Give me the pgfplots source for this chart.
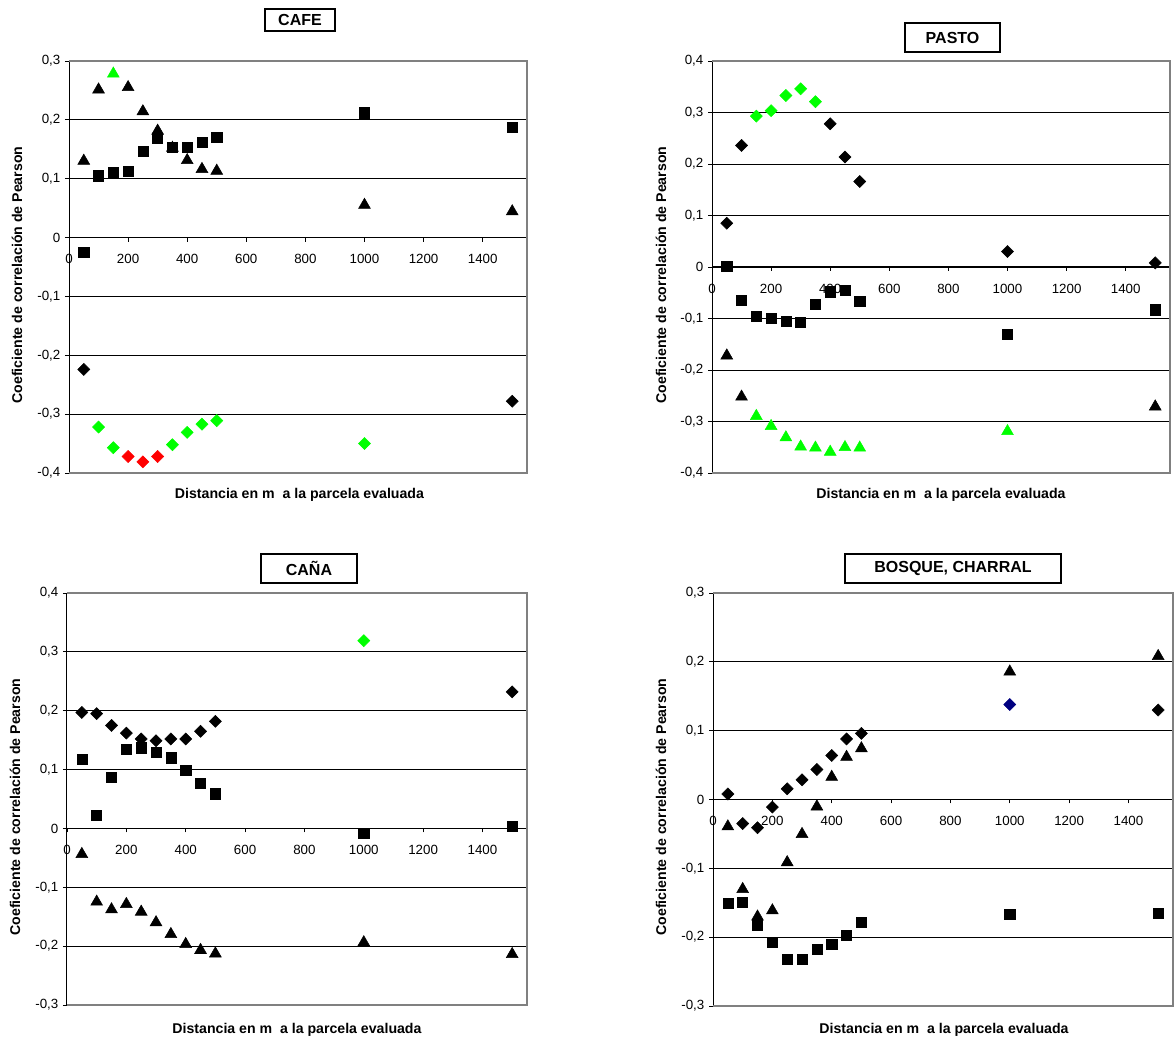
\documentclass[border=0pt]{standalone}
\usepackage{pgfplots}
\pgfplotsset{compat=1.18}
\usepackage{fontspec}
\setmainfont{Liberation Sans}

\definecolor{xlgreen}{RGB}{0,255,0}
\definecolor{xlred}{RGB}{255,0,0}
\definecolor{xlnavy}{RGB}{0,0,128}
\definecolor{framegray}{RGB}{128,128,128}

\pgfplotsset{
 panel/.style={
   scale only axis, width=343.5pt, height=309pt,
   axis x line=middle, axis y line=left,
   axis line style={-, black, line width=0.75pt},
   xmin=0, xmax=1550,
   xtick={0,200,400,600,800,1000,1200,1400},
   tick align=outside, major tick length=3pt,
   hide obscured x ticks=false, hide obscured y ticks=false,
   ymajorgrids, grid style={black, line width=0.6pt},
   tick style={black, line width=0.6pt},
   xticklabel style={font=\fontsize{10}{12}\selectfont, anchor=north, yshift=-6pt},
   yticklabel style={font=\fontsize{10}{12}\selectfont},
   /pgf/number format/assume math mode=true,
   /pgf/number format/1000 sep={},
   clip=false,
   anchor=south west,
 },
 sq/.style={only marks, mark=square*, mark size=3.8pt, black},
 tri/.style={only marks, mark=triangle*, mark size=5.1pt, mark options={yshift=-1.2pt}, black},
 dia/.style={only marks, mark=square*, mark size=3.2pt, mark options={rotate=45}, black},
}
\tikzset{fr/.style={framegray, line width=0.9pt}}
\newcommand{\panelframe}{\draw[fr] (rel axis cs:0,1) -- (rel axis cs:1,1) -- (rel axis cs:1,0) -- (rel axis cs:0,0);}

\begin{document}
\begin{tikzpicture}
\useasboundingbox (0,0) rectangle (880.5pt,780.75pt);

% ---------------- CAFE ----------------
\begin{axis}[panel, at={(51.75pt,426pt)},
  ymin=-0.4, ymax=0.3,
  ytick={-0.4,-0.3,-0.2,-0.1,0,0.1,0.2,0.3},
  yticklabels={{-0,4},{-0,3},{-0,2},{-0,1},0,{0,1},{0,2},{0,3}}]
\panelframe
\addplot[sq] coordinates {(50,-0.025)(100,0.105)(150,0.110)(200,0.113)(250,0.147)(300,0.169)(350,0.154)(400,0.154)(450,0.162)(500,0.171)(1000,0.212)(1500,0.188)};
\addplot[tri] coordinates {(50,0.133)(100,0.254)(200,0.258)(250,0.217)(300,0.184)(350,0.155)(400,0.134)(450,0.119)(500,0.116)(1000,0.058)(1500,0.047)};
\addplot[tri, color=xlgreen] coordinates {(150,0.281)};
\addplot[dia] coordinates {(50,-0.224)(1500,-0.278)};
\addplot[dia, color=xlgreen] coordinates {(100,-0.322)(150,-0.357)(350,-0.352)(400,-0.331)(450,-0.317)(500,-0.311)(1000,-0.350)};
\addplot[dia, color=xlred] coordinates {(200,-0.372)(250,-0.381)(300,-0.372)};
\end{axis}

% ---------------- PASTO ----------------
\begin{axis}[panel, at={(534pt,426pt)},
  ymin=-0.4, ymax=0.4,
  ytick={-0.4,-0.3,-0.2,-0.1,0,0.1,0.2,0.3,0.4},
  yticklabels={{-0,4},{-0,3},{-0,2},{-0,1},0,{0,1},{0,2},{0,3},{0,4}}]
\panelframe
\addplot[dia] coordinates {(50,0.085)(100,0.236)(400,0.278)(450,0.2135)(500,0.166)(1000,0.030)(1500,0.008)};
\addplot[dia, color=xlgreen] coordinates {(150,0.293)(200,0.3035)(250,0.333)(300,0.346)(350,0.321)};
\addplot[sq] coordinates {(50,0.002)(100,-0.064)(150,-0.0955)(200,-0.100)(250,-0.106)(300,-0.108)(350,-0.073)(400,-0.048)(450,-0.046)(500,-0.066)(1000,-0.130)(1500,-0.083)};
\addplot[tri] coordinates {(50,-0.169)(100,-0.249)(1500,-0.268)};
\addplot[tri, color=xlgreen] coordinates {(150,-0.2865)(200,-0.306)(250,-0.328)(300,-0.346)(350,-0.348)(400,-0.356)(450,-0.347)(500,-0.348)(1000,-0.316)};
\end{axis}

% ---------------- CANA ----------------
\begin{axis}[panel, at={(50.25pt,27pt)}, width=345pt,
  ymin=-0.3, ymax=0.4,
  ytick={-0.3,-0.2,-0.1,0,0.1,0.2,0.3,0.4},
  yticklabels={{-0,3},{-0,2},{-0,1},0,{0,1},{0,2},{0,3},{0,4}}]
\panelframe
\addplot[dia] coordinates {(50,0.197)(100,0.195)(150,0.175)(200,0.162)(250,0.152)(300,0.149)(350,0.152)(400,0.152)(450,0.165)(500,0.182)(1500,0.232)};
\addplot[dia, color=xlgreen] coordinates {(1000,0.319)};
\addplot[sq] coordinates {(50,0.118)(100,0.0225)(150,0.0876)(200,0.135)(250,0.137)(300,0.1295)(350,0.120)(400,0.099)(450,0.077)(500,0.059)(1000,-0.008)(1500,0.003)};
\addplot[tri] coordinates {(50,-0.041)(100,-0.122)(150,-0.135)(200,-0.126)(250,-0.139)(300,-0.157)(350,-0.177)(400,-0.194)(450,-0.204)(500,-0.210)(1000,-0.191)(1500,-0.211)};
\end{axis}

% ---------------- BOSQUE ----------------
\begin{axis}[panel, at={(534.75pt,26.25pt)}, width=345pt, height=309.75pt,
  ymin=-0.3, ymax=0.3,
  ytick={-0.3,-0.2,-0.1,0,0.1,0.2,0.3},
  yticklabels={{-0,3},{-0,2},{-0,1},0,{0,1},{0,2},{0,3}}]
\panelframe
\addplot[dia] coordinates {(50,0.008)(100,-0.035)(150,-0.041)(200,-0.011)(250,0.0155)(300,0.0286)(350,0.0436)(400,0.064)(450,0.088)(500,0.096)(1500,0.130)};
\addplot[dia, color=xlnavy] coordinates {(1000,0.138)};
\addplot[tri] coordinates {(50,-0.037)(100,-0.128)(150,-0.168)(200,-0.159)(250,-0.089)(300,-0.048)(350,-0.008)(400,0.035)(450,0.064)(500,0.0765)(1000,0.188)(1500,0.2105)};
\addplot[sq] coordinates {(50,-0.151)(100,-0.149)(150,-0.182)(200,-0.2075)(250,-0.232)(300,-0.232)(350,-0.218)(400,-0.210)(450,-0.197)(500,-0.1785)(1000,-0.167)(1500,-0.165)};
\end{axis}

% ---------------- titles and labels ----------------
\tikzset{ttl/.style={draw=black, line width=1pt, fill=white, inner sep=0pt, font=\bfseries\fontsize{12}{14}\selectfont},
         lbl/.style={font=\bfseries\fontsize{10.6}{12}\selectfont, inner sep=0pt}}
\node[ttl, minimum width=52.5pt, minimum height=16.5pt] at (225pt,765.75pt) {CAFE};
\node[ttl, minimum width=71.25pt, minimum height=21.75pt] at (714.4pt,752.6pt) {PASTO};
\node[ttl, minimum width=72pt, minimum height=21.75pt] at (231.75pt,354.4pt) {CAÑA};
\node[ttl, minimum width=162pt, minimum height=21.75pt] at (714.75pt,354.4pt) {BOSQUE, CHARRAL};

\node[lbl] at (224.6pt,409.5pt) {Distancia en m\ \ a la parcela evaluada};
\node[lbl] at (705.75pt,409.5pt) {Distancia en m\ \ a la parcela evaluada};
\node[lbl] at (222.75pt,8.25pt) {Distancia en m\ \ a la parcela evaluada};
\node[lbl] at (708pt,8.25pt) {Distancia en m\ \ a la parcela evaluada};

\node[lbl, rotate=90] at (12.75pt,574.5pt) {Coeficiente de correlación de Pearson};
\node[lbl, rotate=90] at (495.75pt,574.5pt) {Coeficiente de correlación de Pearson};
\node[lbl, rotate=90] at (11.25pt,175.5pt) {Coeficiente de correlación de Pearson};
\node[lbl, rotate=90] at (495.75pt,175.5pt) {Coeficiente de correlación de Pearson};
\end{tikzpicture}
\end{document}
